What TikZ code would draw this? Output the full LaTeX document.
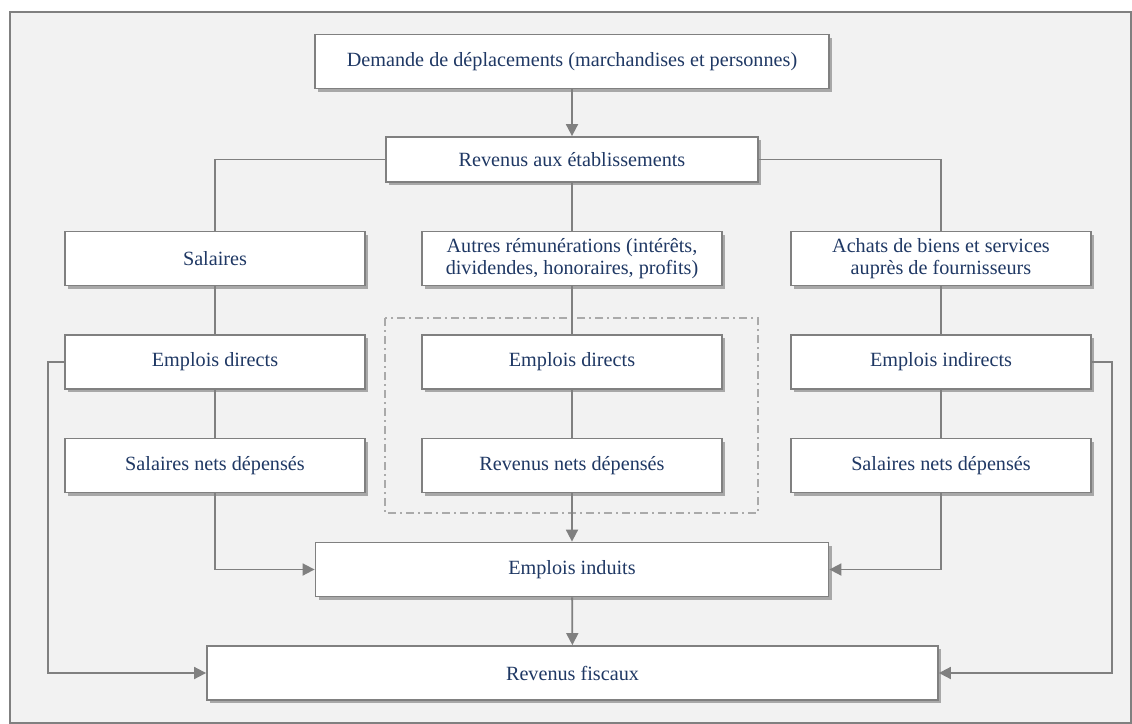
\documentclass[tikz,border=0pt]{standalone}
\usepackage{fontspec}
\setmainfont{Liberation Serif}
\usetikzlibrary{arrows.meta,shadows}

\definecolor{bleutexte}{RGB}{31,56,100}
\definecolor{grisligne}{RGB}{128,128,128}
\definecolor{grisclair}{RGB}{170,170,170}
\definecolor{grisfond}{RGB}{242,242,242}

\tikzset{
  boite/.style={draw=grisligne, line width=0.9pt, fill=white, text=bleutexte,
    align=center, minimum width=150pt, minimum height=27pt, inner sep=0pt,
    font=\fontsize{10.1pt}{11pt}\selectfont,
    drop shadow={shadow xshift=1.5pt, shadow yshift=-1.5pt, fill=black, opacity=.3}},
  lien/.style={draw=grisligne, line width=0.9pt},
  fleche/.style={lien, -{Triangle[length=6pt,width=6pt]}}
}

\begin{document}
\begin{tikzpicture}[x=0.5pt,y=-0.5pt]
  \useasboundingbox (0,0) rectangle (1132,724);
  \draw[grisligne, line width=1pt, fill=grisfond] (10,12) rectangle (1131,723);

  \draw[grisclair, line width=0.9pt, dash pattern=on 4pt off 2pt on 1pt off 2pt]
    (385,318) rectangle (758,513);

  \node[boite, minimum width=257pt] (dem) at (572,61.5) {Demande de déplacements (marchandises et personnes)};
  \node[boite, minimum width=186pt, minimum height=22.5pt] (rev) at (572,159.5) {Revenus aux établissements};

  \node[boite] (sal) at (215,258.5) {Salaires};
  \node[boite] (aut) at (572,258.5) {Autres rémunérations (intérêts,\\dividendes, honoraires, profits)};
  \node[boite] (ach) at (941,258.5) {Achats de biens et services\\auprès de fournisseurs};

  \node[boite] (dir1) at (215,362) {Emplois directs};
  \node[boite] (dir2) at (572,362) {Emplois directs};
  \node[boite] (ind1) at (941,362) {Emplois indirects};

  \node[boite] (snd1) at (215,465.5) {Salaires nets dépensés};
  \node[boite] (rnd) at (572,465.5) {Revenus nets dépensés};
  \node[boite] (snd2) at (941,465.5) {Salaires nets dépensés};

  \node[boite, minimum width=256.5pt] (induits) at (572,569.5) {Emplois induits};
  \node[boite, minimum width=365.5pt] (fisc) at (572.5,673) {Revenus fiscaux};

  \draw[fleche] (dem) -- (rev);
  \draw[lien] (rev.west) -| (sal.north);
  \draw[lien] (rev.east) -| (ach.north);
  \draw[lien] (rev) -- (aut);
  \foreach \a/\b in {sal/dir1,dir1/snd1,aut/dir2,dir2/rnd,ach/ind1,ind1/snd2}
    \draw[lien] (\a) -- (\b);
  \draw[fleche] (rnd) -- (induits);
  \draw[fleche] (snd1.south) |- (induits.west);
  \draw[fleche] (snd2.south) |- (induits.east);
  \draw[fleche] (induits) -- (fisc);
  \draw[fleche] (dir1.west) -- ++(-16,0) |- (fisc.west);
  \draw[fleche] (ind1.east) -- ++(20,0) |- (fisc.east);
\end{tikzpicture}
\end{document}
